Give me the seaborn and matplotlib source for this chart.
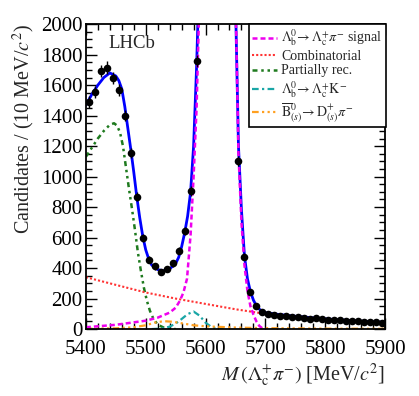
import numpy as np
import pandas as pd
import matplotlib
matplotlib.use("Agg")
import matplotlib.pyplot as plt
from matplotlib.ticker import MultipleLocator
import seaborn as sns

# data points (bin centres, 10 MeV bins); peak bins are off the plot
mass = [5405, 5415, 5425, 5435, 5445, 5455, 5465, 5475, 5485, 5495,
        5505, 5515, 5525, 5535, 5545, 5555, 5565, 5575, 5585, 5595,
        5605, 5615, 5625, 5635, 5645, 5655, 5665, 5675, 5685, 5695,
        5705, 5715, 5725, 5735, 5745, 5755, 5765, 5775, 5785, 5795,
        5805, 5815, 5825, 5835, 5845, 5855, 5865, 5875, 5885, 5895]
counts = [1487, 1553, 1692, 1714, 1648, 1571, 1399, 1153, 867, 596,
          455, 411, 376, 394, 431, 515, 642, 906, 1758, 4500,
          9500, 13500, 12500, 8000, 4200, 1104, 475, 246, 150, 112,
          101, 95, 88, 84, 78, 77, 72, 66, 70, 68,
          60, 58, 62, 54, 50, 52, 46, 44, 46, 40]

# total fit (blue)
tot_m = [5400, 5410, 5420, 5430, 5440, 5450, 5455, 5460, 5465, 5470, 5475,
         5480, 5485, 5490, 5495, 5500, 5505, 5510, 5520, 5530, 5540, 5550,
         5555, 5560, 5565, 5570, 5575, 5580, 5585, 5590, 5620, 5650, 5655,
         5660, 5665, 5670, 5675, 5680, 5685, 5690, 5695, 5700, 5720, 5750,
         5800, 5850, 5900]
tot_v = [1470, 1540, 1600, 1650, 1680, 1660, 1630, 1575, 1460, 1320, 1180,
         1030, 870, 730, 610, 520, 460, 420, 390, 383, 395, 430,
         470, 540, 630, 740, 900, 1200, 1720, 2400, 14000, 2150, 1200,
         780, 480, 330, 245, 190, 152, 130, 117, 108, 97, 84,
         67, 54, 44]

# signal (magenta)
sig_m = [5400, 5450, 5500, 5520, 5540, 5550, 5557, 5563, 5569, 5575, 5580,
         5585, 5590, 5620, 5650, 5655, 5660, 5665, 5670, 5675, 5680, 5685,
         5690, 5695, 5700]
sig_v = [12, 28, 55, 75, 108, 140, 185, 240, 330, 620, 1000,
         1450, 2200, 13800, 2200, 1150, 700, 420, 250, 150, 95, 50,
         20, 5, 0]

# combinatorial (red)
comb_m = [5400, 5450, 5500, 5550, 5600, 5650, 5700, 5750, 5800, 5850, 5900]
comb_v = [340, 290, 240, 200, 165, 130, 100, 80, 64, 52, 42]

# partially reconstructed (green)
part_m = [5400, 5410, 5420, 5430, 5440, 5447, 5452, 5457, 5462, 5467, 5472,
          5477, 5482, 5487, 5492, 5497, 5502, 5507, 5512, 5517, 5522, 5530,
          5540, 5550]
part_v = [1130, 1190, 1250, 1300, 1340, 1350, 1335, 1290, 1200, 1060, 920,
          790, 650, 500, 380, 270, 185, 120, 75, 45, 25, 10,
          3, 0]

# Lambda_b -> Lambda_c K (cyan)
lck_m = [5510, 5520, 5530, 5540, 5550, 5560, 5570, 5580, 5590, 5600, 5610,
         5620, 5630]
lck_v = [0, 2, 6, 16, 36, 66, 98, 115, 88, 42, 13, 3, 0]

# B -> D pi (orange)
bd_m = [5400, 5450, 5480, 5500, 5515, 5530, 5545, 5560, 5580, 5600, 5650,
        5700, 5800, 5900]
bd_v = [2, 5, 12, 25, 42, 52, 48, 38, 25, 18, 10, 6, 3, 2]

lab_sig = r'$\Lambda_{\mathrm{b}}^{0}\!\to\Lambda_{\mathrm{c}}^{+}\pi^{-}$ signal'
lab_lck = r'$\Lambda_{\mathrm{b}}^{0}\!\to\Lambda_{\mathrm{c}}^{+}\mathrm{K}^{-}$'
lab_bd = r'$\overline{\mathrm{B}}{}_{(s)}^{0}\!\to\mathrm{D}_{(s)}^{+}\pi^{-}$'

sns.set_style("ticks")
plt.rcParams['font.family'] = ['Liberation Serif', 'DejaVu Serif']
plt.rcParams['mathtext.fontset'] = 'stix'

fig = plt.figure(figsize=(4.19, 3.96), dpi=100)
ax = fig.add_axes([0.205, 0.169, 0.714, 0.770])

sns.lineplot(x=part_m, y=part_v, ax=ax, color='#1e7a1e', lw=1.8,
             linestyle=(0, (2, 1.5, 1, 1.5, 1, 1.5)), label='Partially rec.')
sns.lineplot(x=comb_m, y=comb_v, ax=ax, color='#ff3333', lw=1.5,
             linestyle=(0, (1, 1)), label='Combinatorial')
sns.lineplot(x=lck_m, y=lck_v, ax=ax, color='#1aa6a6', lw=1.6,
             linestyle=(0, (3, 1.5, 1, 1.5)), label=lab_lck)
sns.lineplot(x=bd_m, y=bd_v, ax=ax, color='#ffa020', lw=1.6,
             linestyle=(0, (3, 1.5, 1, 1.5, 1, 1.5, 1, 1.5)), label=lab_bd)
sns.lineplot(x=tot_m, y=tot_v, ax=ax, color='#0000ff', lw=2.0)
sns.lineplot(x=sig_m, y=sig_v, ax=ax, color='#ee00ee', lw=1.8,
             linestyle=(0, (2, 1.2)), label=lab_sig)

err = np.sqrt(counts)
ax.errorbar(mass, counts, yerr=err, fmt='none', ecolor='black', elinewidth=1.0,
            capsize=0, zorder=5)
sns.scatterplot(x=mass, y=counts, ax=ax, color='black', s=30, linewidth=0,
                zorder=6, legend=False)

ax.set_xlim(5400, 5900)
ax.set_ylim(0, 2000)
ax.xaxis.set_major_locator(MultipleLocator(100))
ax.xaxis.set_minor_locator(MultipleLocator(20))
ax.yaxis.set_major_locator(MultipleLocator(200))
ax.yaxis.set_minor_locator(MultipleLocator(50))
ax.tick_params(which='both', direction='in', top=True, right=True, width=1.0,
               labelsize=15, colors='black')
ax.tick_params(which='major', length=8)
ax.tick_params(which='minor', length=4.5)
ax.tick_params(axis='x', which='major', pad=8)
ax.tick_params(axis='y', which='major', pad=2.5)
for sp in ax.spines.values():
    sp.set_linewidth(1.3)
    sp.set_color('black')

ax.set_xlabel(r'$M\,(\Lambda_{\mathrm{c}}^{+}\pi^{-})$ [MeV/$c^{2}$]', fontsize=14.5,
              loc='right', labelpad=2)
ax.set_ylabel(r'Candidates / (10 MeV/$c^{2}$)', fontsize=14.5, loc='top', labelpad=3)
ax.text(0.075, 0.935, 'LHCb', transform=ax.transAxes, fontsize=13.5,
        va='center', ha='left')

handles, labels = ax.get_legend_handles_labels()
order = [labels.index(l) for l in
         [lab_sig, 'Combinatorial', 'Partially rec.', lab_lck, lab_bd]]
leg = ax.legend([handles[i] for i in order], [labels[i] for i in order],
                loc='upper right', bbox_to_anchor=(1.003, 1.0), fontsize=10,
                frameon=True, fancybox=False, edgecolor='black', framealpha=1,
                borderaxespad=0, handlelength=1.8, handletextpad=0.3,
                labelspacing=0.12, borderpad=0.25)
leg.get_frame().set_linewidth(1.2)

fig.savefig('out.png', dpi=100)
